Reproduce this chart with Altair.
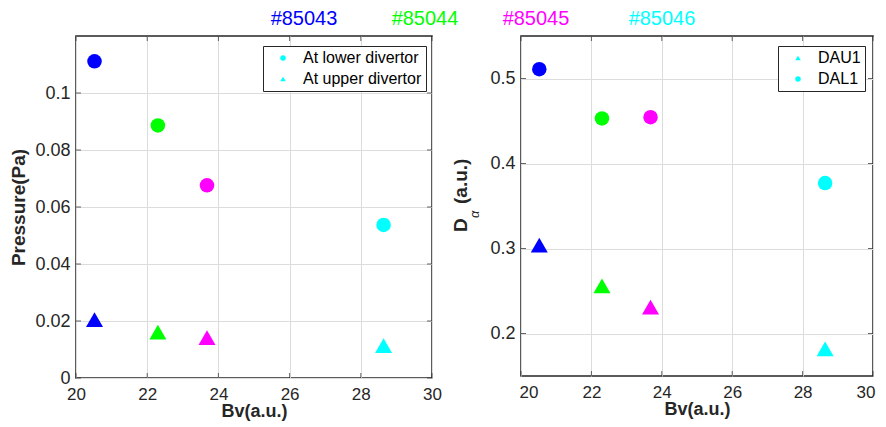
import altair as alt
import pandas as pd

# ---------------- data ----------------
shots = ["#85043", "#85044", "#85045", "#85046"]
shot_colors = ["#0000FF", "#00FF00", "#FF00FF", "#00FFFF"]
bv = [20.52, 22.30, 23.68, 28.64]

pressure_lower = [0.1111, 0.0886, 0.0676, 0.0537]
pressure_upper = [0.0205, 0.0161, 0.0142, 0.0114]

dal1 = [0.511, 0.453, 0.4545, 0.377]
dau1 = [0.304, 0.256, 0.231, 0.182]

x_ticks = [20, 22, 24, 26, 28, 30]
p_ticks = [0, 0.02, 0.04, 0.06, 0.08, 0.1]
d_ticks = [0.2, 0.3, 0.4, 0.5]
x_dom = [20, 30]
p_dom = [0, 0.12]
d_dom = [0.15, 0.55]

left_probes = ["At lower divertor", "At upper divertor"]
right_probes = ["DAU1", "DAL1"]

FONT = "Liberation Sans"
TXT = "#262626"

p_df = pd.DataFrame({
    "shot": shots * 2,
    "bv": bv * 2,
    "value": pressure_lower + pressure_upper,
    "probe": [left_probes[0]] * 4 + [left_probes[1]] * 4,
})
d_df = pd.DataFrame({
    "shot": shots * 2,
    "bv": bv * 2,
    "value": dau1 + dal1,
    "probe": [right_probes[0]] * 4 + [right_probes[1]] * 4,
})

color_enc = alt.Color("shot:N", scale=alt.Scale(domain=shots, range=shot_colors), legend=None)


def x_scale():
    return alt.Scale(domain=x_dom, nice=False)


def x_enc(flush):
    kw = dict(labelFlush=True, labelFlushOffset=2) if flush else dict(labelFlush=False)
    return alt.X("bv:Q", scale=x_scale(),
                 axis=alt.Axis(values=x_ticks, title="Bv(a.u.)", format="d",
                               labelFontSize=17, titleFontSize=18,
                               labelPadding=8, titlePadding=0, **kw))


def legend(lx, ly):
    return alt.Legend(title=None, orient="none", legendX=lx, legendY=ly,
                      strokeColor=TXT, fillColor="white", padding=4,
                      labelFontSize=16, labelFont=FONT, labelColor="black",
                      symbolSize=30, symbolFillColor="#00FFFF", symbolStrokeColor="#00FFFF",
                      symbolStrokeWidth=0, rowPadding=5, symbolOffset=8, labelOffset=12)


def inner_ticks(ydom, yticks):
    """Inward tick marks on all four sides of the box, at the tick values."""
    ys = pd.DataFrame({"v": yticks})
    xs = pd.DataFrame({"v": x_ticks})
    ysc = alt.Scale(domain=ydom, nice=False, zero=False)
    common = dict(color=TXT, thickness=1, size=5)
    right_t = alt.Chart(ys).mark_tick(orient="horizontal", xOffset=-2.5, **common).encode(
        x=alt.X(datum=x_dom[1], type="quantitative", scale=x_scale()),
        y=alt.Y("v:Q", scale=ysc))
    left_t = alt.Chart(ys).mark_tick(orient="horizontal", xOffset=2.5, **common).encode(
        x=alt.X(datum=x_dom[0], type="quantitative", scale=x_scale()),
        y=alt.Y("v:Q", scale=ysc))
    top_t = alt.Chart(xs).mark_tick(orient="vertical", yOffset=2.5, **common).encode(
        x=alt.X("v:Q", scale=x_scale()),
        y=alt.Y(datum=ydom[1], type="quantitative", scale=ysc))
    bot_t = alt.Chart(xs).mark_tick(orient="vertical", yOffset=-2.5, **common).encode(
        x=alt.X("v:Q", scale=x_scale()),
        y=alt.Y(datum=ydom[0], type="quantitative", scale=ysc))
    return [right_t, left_t, top_t, bot_t]


def panel(df, probes, shapes, circle_probe, tri_probe, ydom, yticks, yfmt, ytitle, lx, ly, flush):
    shape_enc = alt.Shape("probe:N", scale=alt.Scale(domain=probes, range=shapes),
                          legend=legend(lx, ly))
    y = alt.Y("value:Q", scale=alt.Scale(domain=ydom, nice=False, zero=False),
              axis=alt.Axis(values=yticks, format=yfmt, title=ytitle,
                            labelPadding=6, titlePadding=6, labelFlush=False))
    base = alt.Chart(df).encode(x=x_enc(flush), y=y, color=color_enc, shape=shape_enc)
    circ = base.transform_filter(alt.datum.probe == circle_probe).mark_point(
        filled=True, opacity=1, size=210)
    tri = base.transform_filter(alt.datum.probe == tri_probe).mark_point(
        filled=True, opacity=1, size=290)
    return [circ, tri]


left_layers = panel(p_df, left_probes, ["circle", "triangle-up"], left_probes[0], left_probes[1],
                    p_dom, p_ticks, "~g", "Pressure(Pa)", 187, 10, False)

# top shot labels
label_x = [228, 349, 460, 586]
top_labels = [
    alt.Chart(pd.DataFrame({"t": [s]})).mark_text(
        fontSize=20, font=FONT, baseline="alphabetic", align="center", color=c
    ).encode(text="t:N", x=alt.value(px), y=alt.value(-11))
    for s, c, px in zip(shots, shot_colors, label_x)
]

left = alt.layer(*left_layers, *inner_ticks(p_dom, p_ticks), *top_labels).properties(
    width=356, height=342)

right_layers = panel(d_df, right_probes, ["triangle-up", "circle"], right_probes[1], right_probes[0],
                     d_dom, d_ticks, ".1f", None, 257, 10, True)

# composite y title D_alpha(a.u.)
d_main = alt.Chart(pd.DataFrame({"t": ["D"]})).mark_text(
    fontSize=19, font=FONT, fontWeight="bold", angle=270, align="left", baseline="middle", color=TXT
).encode(text="t:N", x=alt.value(-60), y=alt.value(196))
d_sub = alt.Chart(pd.DataFrame({"t": ["α"]})).mark_text(
    fontSize=13, font=FONT, fontStyle="italic", angle=270, align="left", baseline="middle", color=TXT
).encode(text="t:N", x=alt.value(-46), y=alt.value(182))
d_unit = alt.Chart(pd.DataFrame({"t": ["(a.u.)"]})).mark_text(
    fontSize=19, font=FONT, fontWeight="bold", angle=270, align="left", baseline="middle", color=TXT
).encode(text="t:N", x=alt.value(-60), y=alt.value(168))

right = alt.layer(*right_layers, *inner_ticks(d_dom, d_ticks), d_main, d_sub, d_unit).properties(
    width=352, height=340)

chart = alt.hconcat(left, right, spacing=89, bounds="flush").resolve_scale(
    shape="independent", color="shared"
).resolve_legend(shape="independent").properties(
    padding={"left": 1, "top": 0, "right": 0, "bottom": 0}, background="white"
).configure_view(
    stroke=TXT, strokeWidth=1.5
).configure_axis(
    labelFont=FONT, titleFont=FONT, labelFontSize=18, titleFontSize=19,
    labelColor=TXT, titleColor=TXT, titleFontWeight="bold",
    grid=True, gridColor="#dcdcdc", gridWidth=1, domain=False, ticks=False
)

chart.save("out.html", embed_options={"renderer": "svg", "actions": False})
